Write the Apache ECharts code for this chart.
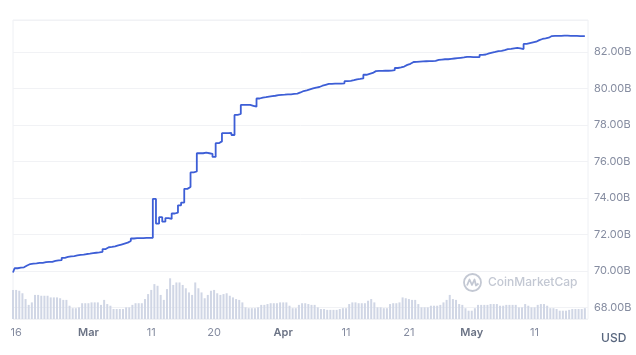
<!DOCTYPE html>
<html><head><meta charset="utf-8">
<script src="https://cdn.jsdelivr.net/npm/echarts@6/dist/echarts.min.js"></script>
<style>html,body{margin:0;padding:0;background:#fff}#c{width:636px;height:355px}</style>
</head><body><div id="c"></div>
<script>
// 12-hourly samples starting 2023-02-17
const startDate = Date.UTC(2023, 1, 17, 0, 0, 0);
const stepHours = 12;

// Market cap, billions USD
const supplyB = [
69.92,70.15,70.18,70.2,70.3,70.38,70.4,70.42,70.45,70.45,
70.48,70.5,70.5,70.55,70.58,70.6,70.72,70.77,70.8,70.82,
70.85,70.88,70.9,70.93,70.95,70.98,71.0,71.02,71.05,71.2,
71.3,71.32,71.35,71.4,71.45,71.5,71.55,71.65,71.78,71.8,
71.8,71.8,71.81,71.81,71.82,73.95,72.6,72.95,72.7,72.9,
72.85,73.15,73.2,73.6,73.75,74.5,74.6,75.4,75.45,76.45,
76.45,76.48,76.45,76.42,76.25,77.0,77.1,77.55,77.55,77.56,
77.45,78.55,78.6,79.1,79.1,79.1,79.05,79.0,79.45,79.5,
79.52,79.55,79.58,79.6,79.63,79.65,79.66,79.68,79.68,79.7,
79.72,79.78,79.86,79.9,79.95,80.0,80.05,80.08,80.15,80.2,
80.25,80.25,80.26,80.26,80.27,80.28,80.4,80.42,80.45,80.5,
80.52,80.55,80.75,80.8,80.85,80.95,80.96,80.96,80.97,80.97,
80.98,81.0,81.12,81.15,81.2,81.29,81.35,81.45,81.46,81.47,
81.48,81.49,81.5,81.5,81.51,81.56,81.58,81.6,81.6,81.62,
81.64,81.66,81.68,81.7,81.73,81.73,81.72,81.72,81.72,81.84,
81.86,81.92,81.96,82.0,82.05,82.06,82.1,82.15,82.17,82.2,
82.22,82.2,82.16,82.44,82.48,82.52,82.56,82.65,82.71,82.74,
82.78,82.87,82.88,82.88,82.88,82.89,82.89,82.88,82.88,82.88,
82.87,82.87,82.87
];

// Volume, billions USD
const volumeB = [
35,35,34,31,24,17,20,29,29,28,
28,28,26,26,26,25,23,23,16,13,
13,14,19,19,19,20,20,20,17,23,
18,16,12,12,12,12,14,14,17,19,
19,19,24,30,35,42,40,29,23,36,
49,41,44,44,41,37,32,29,44,37,
32,25,29,34,35,31,29,30,31,28,
26,24,23,20,14,13,13,13,14,17,
17,18,19,19,19,20,20,20,16,13,
13,17,19,19,18,17,17,14,12,12,
11,11,11,11,12,13,13,18,20,20,
19,19,19,22,24,20,14,14,13,13,
18,19,19,20,26,25,24,23,23,18,
14,14,14,16,16,16,17,20,23,29,
24,23,18,17,13,10,10,13,17,17,
17,17,18,18,18,16,16,17,17,17,
17,14,14,18,16,14,14,17,18,18,
16,13,13,12,10,10,10,11,12,12,
12,12,13
];

const tickIdx = [1, 24, 44, 64, 86, 106, 126, 146, 166];
const tickText = ['16', 'Mar', '11', '20', 'Apr', '11', '21', 'May', '11'];
const monthNames = ['Mar', 'Apr', 'May'];

const cats = [];
for (let i = 0; i <= supplyB.length; i++) {
  const d = new Date(startDate + i * stepHours * 3600 * 1000);
  cats.push(d.toISOString().slice(0, 16));
}

const chart = echarts.init(document.getElementById('c'), null, {renderer: 'canvas'});
const cx = 472.5, cy = 282.5;
chart.setOption({
  animation: false,
  grid: {left: 13, right: 48, top: 20, bottom: 36, show: true, borderColor: '#eef0f4', borderWidth: 1},
  xAxis: {
    type: 'category', data: cats, boundaryGap: false,
    axisLine: {show: false}, axisTick: {show: false}, splitLine: {show: false},
    axisLabel: {
      interval: function (i) { return tickIdx.indexOf(i) >= 0; },
      formatter: function (v, i) {
        const k = tickIdx.indexOf(i);
        if (k < 0) return '';
        const t = tickText[k];
        return monthNames.indexOf(t) >= 0 ? '{m|' + t + '}' : t;
      },
      rich: {m: {fontWeight: 600, color: '#6b7385', fontSize: 11, fontFamily: 'Inter'}},
      color: '#858ca0', fontSize: 11, fontFamily: 'Inter', margin: 8
    }
  },
  yAxis: [
    {
      type: 'value', position: 'right', min: 67.37, max: 83.75,
      splitNumber: 8, minInterval: 2, maxInterval: 2,
      axisLine: {show: false}, axisTick: {show: false},
      splitLine: {lineStyle: {color: '#f1f2f5', width: 1}},
      axisLabel: {
        formatter: function (v) { return v.toFixed(2) + 'B'; },
        showMinLabel: false, showMaxLabel: false,
        color: '#858ca0', fontSize: 11, fontFamily: 'Inter', margin: 6
      }
    },
    {type: 'value', min: 0, max: 360, show: false}
  ],
  series: [
    {type: 'bar', yAxisIndex: 1, data: volumeB, barWidth: 2, silent: true,
     itemStyle: {color: '#d0d6e5'}},
    {type: 'line', yAxisIndex: 0, data: supplyB, showSymbol: false, silent: true, step: 'middle',
     lineStyle: {color: '#3d5ed6', width: 1.8}}
  ],
  graphic: [
    {type: 'circle', shape: {cx: cx, cy: cy, r: 8.5}, style: {fill: 'none', stroke: '#c3c8d3', lineWidth: 1.8}, silent: true},
    {type: 'polyline', shape: {points: [[cx-5.5, cy+3], [cx-3, cy-3], [cx-0.5, cy+2.5], [cx+2, cy-3], [cx+3.5, cy+3], [cx+6, cy+1]]},
     style: {fill: 'none', stroke: '#c3c8d3', lineWidth: 1.8, lineJoin: 'round'}, silent: true},
    {type: 'text', left: 488, top: 276, style: {text: 'CoinMarketCap', fontSize: 12, fontWeight: 500, fontFamily: 'Inter', fill: '#c3c8d3'}, silent: true},
    {type: 'text', left: 601, top: 332, style: {text: 'USD', fontSize: 12, fontWeight: 500, fontFamily: 'Inter', fill: '#58667e'}, silent: true}
  ]
});
</script></body></html>
